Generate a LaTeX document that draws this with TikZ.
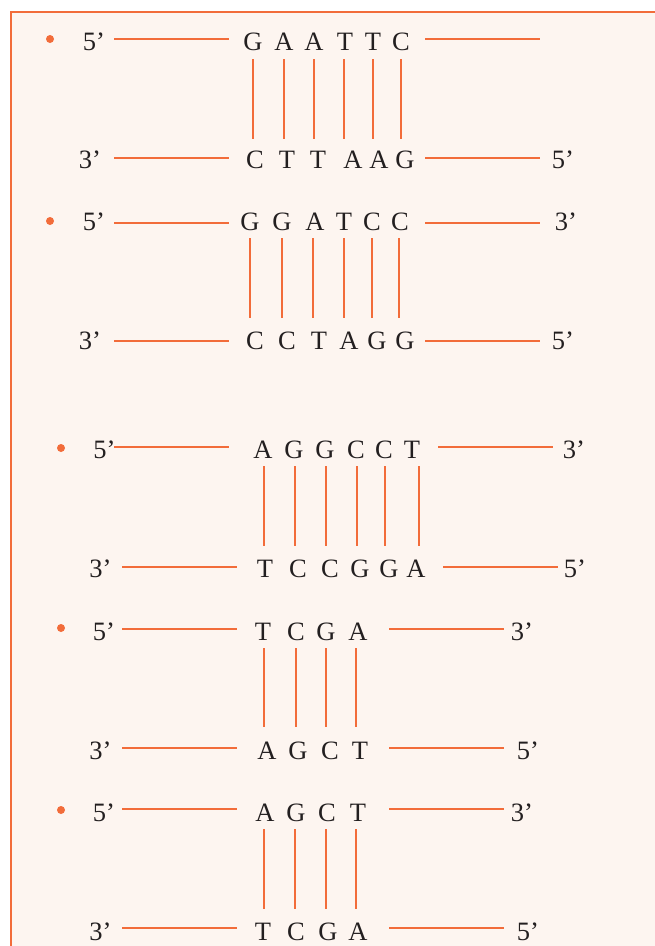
\documentclass[tikz,border=0pt]{standalone}
\usepackage{fontspec}
\setmainfont{Liberation Serif}
\usetikzlibrary{calc}
\definecolor{dnaorange}{RGB}{242,108,58}
\definecolor{panelfill}{RGB}{253,245,240}
\definecolor{inkgray}{RGB}{35,31,32}
\tikzset{
  letter/.style={font=\fontsize{26.5}{30}\selectfont, text=inkgray, inner sep=0pt, anchor=base},
  strand/.style={draw=dnaorange, line width=2.9pt},
  bondline/.style={draw=dnaorange, line width=2.9pt},
  dot/.style={circle, fill=dnaorange, inner sep=0pt, minimum size=8pt},
  panel/.style={draw=dnaorange, line width=2.9pt, fill=panelfill}
}
\newcommand{\strandseg}[4]{%
  \coordinate (#1s) at (#2,#4);
  \coordinate (#1e) at (#3,#4);
  \draw[strand] (#1s) -- (#1e);}
\begin{document}
\begin{tikzpicture}[x=1pt,y=-1pt]
\useasboundingbox (0,0) rectangle (655,946);
\clip (0,0) rectangle (655,946);
\fill[white] (0,0) rectangle (655,946);
\draw[panel] (11,12) rectangle (690,990);

% ---------- Block 1: GAATTC ----------
\node[dot] (adot) at (50,39) {};
\node[letter] (a5l) at (94,50) {5’};
\node[letter] (a3l) at (90,168) {3’};
\node[letter] (a5r) at (563,168) {5’};
\strandseg{aTL}{114}{229}{39}
\strandseg{aTR}{425}{540}{39}
\strandseg{aBL}{114}{229}{158}
\strandseg{aBR}{425}{540}{158}
\foreach \x/\c [count=\i] in {253/G,284/A,314/A,345/T,373/T,401/C}
  \node[letter] (at\i) at (\x,50) {\c};
\foreach \x/\c [count=\i] in {255/C,287/T,318/T,353/A,379/A,405/G}
  \node[letter] (ab\i) at (\x,168) {\c};
\foreach \x/\bx [count=\i] in {253/253,284/284,314/314,345/344,373/373,401/401}
  \draw[bondline] ($(at\i.base)+({\bx-\x},9)$) -- ($(at\i.base |- ab\i.base)+({\bx-\x},-29)$);

% ---------- Block 2: GGATCC ----------
\node[dot] (bdot) at (50,221) {};
\node[letter] (b5l) at (94,230) {5’};
\node[letter] (b3r) at (566,230) {3’};
\node[letter] (b3l) at (90,349) {3’};
\node[letter] (b5r) at (563,349) {5’};
\strandseg{bTL}{114}{229}{223}
\strandseg{bTR}{425}{540}{223}
\strandseg{bBL}{114}{229}{341}
\strandseg{bBR}{425}{540}{341}
\foreach \x/\c [count=\i] in {250/G,282/G,315/A,344/T,372/C,400/C}
  \node[letter] (bt\i) at (\x,230) {\c};
\foreach \x/\c [count=\i] in {255/C,287/C,319/T,349/A,377/G,405/G}
  \node[letter] (bb\i) at (\x,349) {\c};
\foreach \x/\bx [count=\i] in {250/250,282/282,315/313,344/344,372/372,400/399}
  \draw[bondline] ($(bt\i.base)+({\bx-\x},8)$) -- ($(bt\i.base |- bb\i.base)+({\bx-\x},-31)$);

% ---------- Block 3: AGGCCT ----------
\node[dot] (cdot) at (61,448) {};
\node[letter] (c5l) at (104.5,458) {5’};
\node[letter] (c3r) at (574,458) {3’};
\node[letter] (c3l) at (100.5,577) {3’};
\node[letter] (c5r) at (575,577) {5’};
\strandseg{cTL}{114}{229}{447}
\strandseg{cTR}{438}{553}{447}
\strandseg{cBL}{122}{237}{567}
\strandseg{cBR}{443}{558}{567}
\foreach \x/\c [count=\i] in {263/A,294/G,325/G,356/C,384/C,412/T}
  \node[letter] (ct\i) at (\x,458) {\c};
\foreach \x/\c [count=\i] in {265/T,298/C,330/C,360/G,389/G,416/A}
  \node[letter] (cb\i) at (\x,577) {\c};
\foreach \x/\bx [count=\i] in {263/264,294/295,325/326,356/357,384/385,412/419}
  \draw[bondline] ($(ct\i.base)+({\bx-\x},8)$) -- ($(ct\i.base |- cb\i.base)+({\bx-\x},-31)$);

% ---------- Block 4: TCGA ----------
\node[dot] (ddot) at (61,628) {};
\node[letter] (d5l) at (104,640) {5’};
\node[letter] (d3r) at (522,640) {3’};
\node[letter] (d3l) at (100.5,759) {3’};
\node[letter] (d5r) at (528,759) {5’};
\strandseg{dTL}{122}{237}{629}
\strandseg{dTR}{389}{504}{629}
\strandseg{dBL}{122}{237}{748}
\strandseg{dBR}{389}{504}{748}
\foreach \x/\c [count=\i] in {263/T,296/C,326/G,358/A}
  \node[letter] (dt\i) at (\x,640) {\c};
\foreach \x/\c [count=\i] in {267/A,298/G,330/C,360/T}
  \node[letter] (db\i) at (\x,759) {\c};
\foreach \x/\bx [count=\i] in {263/264,296/296,326/326,358/356}
  \draw[bondline] ($(dt\i.base)+({\bx-\x},8)$) -- ($(dt\i.base |- db\i.base)+({\bx-\x},-32)$);

% ---------- Block 5: AGCT ----------
\node[dot] (edot) at (61,810) {};
\node[letter] (e5l) at (104,821) {5’};
\node[letter] (e3r) at (522,821) {3’};
\node[letter] (e3l) at (100.5,940) {3’};
\node[letter] (e5r) at (528,940) {5’};
\strandseg{eTL}{122}{237}{809}
\strandseg{eTR}{389}{504}{809}
\strandseg{eBL}{122}{237}{928}
\strandseg{eBR}{389}{504}{928}
\foreach \x/\c [count=\i] in {265/A,296/G,327/C,358/T}
  \node[letter] (et\i) at (\x,821) {\c};
\foreach \x/\c [count=\i] in {263/T,296/C,328/G,358/A}
  \node[letter] (eb\i) at (\x,940) {\c};
\foreach \x/\bx [count=\i] in {265/264,296/295,327/326,358/356}
  \draw[bondline] ($(et\i.base)+({\bx-\x},8)$) -- ($(et\i.base |- eb\i.base)+({\bx-\x},-31)$);
\end{tikzpicture}
\end{document}
